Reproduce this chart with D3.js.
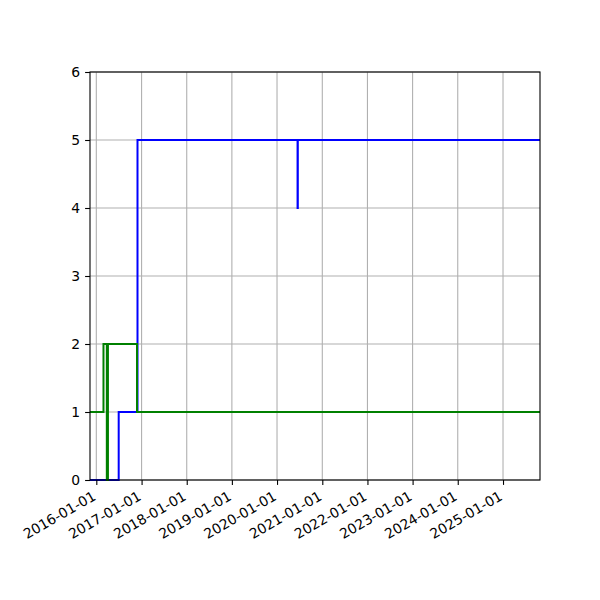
<!DOCTYPE html>
<html>
<head>
<meta charset="utf-8">
<script src="https://cdn.jsdelivr.net/npm/d3@7"></script>
<style>
body { margin: 0; background: #fff; }
text { font-family: "DejaVu Sans", sans-serif; }
</style>
</head>
<body>
<div id="chart"></div>
<script>
// Data
const xDomain = ["2015-11-11", "2025-10-27"];
const yTicks = [0, 1, 2, 3, 4, 5, 6];
const xTickDates = ["2016-01-01","2017-01-01","2018-01-01","2019-01-01","2020-01-01",
                    "2021-01-01","2022-01-01","2023-01-01","2024-01-01","2025-01-01"];
const blueDates  = ["2015-11-11","2016-06-30","2016-11-29","2020-06-15","2020-06-17","2025-10-27"];
const blueValues = [0, 1, 5, 4, 5, 5];
const greenDates  = ["2015-11-11","2016-02-28","2016-03-26","2016-04-04","2016-11-25","2025-10-27"];
const greenValues = [1, 2, 0, 2, 1, 1];

const W = 600, H = 600;
const m = { left: 90, right: 60, top: 72, bottom: 120 };
const parse = d3.utcParse("%Y-%m-%d");

const svg = d3.select("#chart").append("svg")
  .attr("width", W).attr("height", H);

const x = d3.scaleUtc().domain(xDomain.map(parse)).range([m.left, W - m.right]);
const y = d3.scaleLinear().domain([0, 6]).range([H - m.bottom, m.top]);

const fs = "13.9px";

// grid
const g = svg.append("g");
g.selectAll(".vg").data(xTickDates.map(parse)).join("line")
  .attr("x1", d => x(d)).attr("x2", d => x(d))
  .attr("y1", m.top).attr("y2", H - m.bottom)
  .attr("stroke", "#b0b0b0").attr("stroke-width", 1.1);
g.selectAll(".hg").data(yTicks).join("line")
  .attr("x1", m.left).attr("x2", W - m.right)
  .attr("y1", d => y(d)).attr("y2", d => y(d))
  .attr("stroke", "#b0b0b0").attr("stroke-width", 1.1);

// lines
const line = d3.line().curve(d3.curveStepAfter)
  .x(d => x(d[0])).y(d => y(d[1]));
const blue = blueDates.map((d, i) => [parse(d), blueValues[i]]);
const green = greenDates.map((d, i) => [parse(d), greenValues[i]]);

svg.append("path").datum(blue).attr("d", line)
  .attr("fill", "none").attr("stroke", "blue").attr("stroke-width", 2);
svg.append("path").datum(green).attr("d", line)
  .attr("fill", "none").attr("stroke", "green").attr("stroke-width", 2);

// spines
svg.append("rect").attr("x", m.left).attr("y", m.top)
  .attr("width", W - m.left - m.right).attr("height", H - m.top - m.bottom)
  .attr("fill", "none").attr("stroke", "black").attr("stroke-width", 1.1);

// x axis
const xAxis = d3.axisBottom(x).tickValues(xTickDates.map(parse))
  .tickFormat(d3.utcFormat("%Y-%m-%d")).tickSize(4.9).tickPadding(0);
const gx = svg.append("g").attr("transform", `translate(0,${H - m.bottom})`).call(xAxis);
gx.select(".domain").remove();
gx.selectAll(".tick line").attr("stroke", "black").attr("stroke-width", 1.1);
gx.selectAll(".tick text")
  .attr("font-size", fs).attr("fill", "black")
  .attr("text-anchor", "end")
  .attr("y", 0).attr("dy", 0)
  .attr("transform", "translate(0,19) rotate(-30)");

// y axis
const yAxis = d3.axisLeft(y).tickValues(yTicks).tickFormat(d3.format("d"))
  .tickSize(4.9).tickPadding(4.9);
const gy = svg.append("g").attr("transform", `translate(${m.left},0)`).call(yAxis);
gy.select(".domain").remove();
gy.selectAll(".tick line").attr("stroke", "black").attr("stroke-width", 1.1);
gy.selectAll(".tick text").attr("font-size", fs).attr("fill", "black");
</script>
</body>
</html>
